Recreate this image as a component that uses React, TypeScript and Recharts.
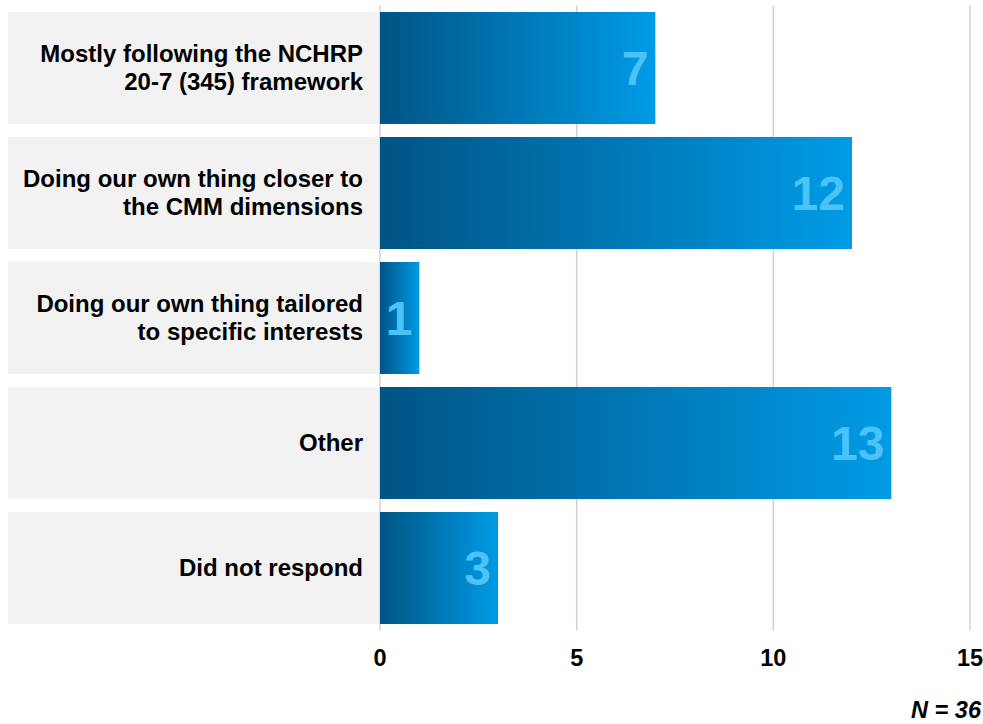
import { BarChart, Bar, XAxis, YAxis, CartesianGrid, LabelList } from 'recharts'

const categories = [
  'Mostly following the NCHRP\n20-7 (345) framework',
  'Doing our own thing closer to\nthe CMM dimensions',
  'Doing our own thing tailored\nto specific interests',
  'Other',
  'Did not respond'
]
const counts = [7, 12, 1, 13, 3]
const xTicks = [0, 5, 10, 15]
const sampleNote = 'N = 36'

const data = categories.map((name, i) => ({ name, value: counts[i] }))

const FONT = '"Liberation Sans", Arial, sans-serif'

const CategoryTick = ({ y, payload }: any) => {
  const lines: string[] = String(payload.value).split('\n')
  const lineH = 28
  const startY = y - ((lines.length - 1) * lineH) / 2
  return (
    <g>
      <rect x={8} y={y - 56} width={371} height={112} fill="#f2f2f2" />
      <text
        x={363}
        y={startY}
        textAnchor="end"
        fontFamily={FONT}
        fontWeight="bold"
        fontSize={24}
        fill="#000"
      >
        {lines.map((l, i) => (
          <tspan key={i} x={363} y={startY + i * lineH} dy="0.35em">
            {l}
          </tspan>
        ))}
      </text>
    </g>
  )
}

export default function App() {
  return (
    <div style={{ position: 'absolute', left: 0, top: 0, width: 983, height: 724, background: '#fff' }}>
      <BarChart
        width={983}
        height={724}
        data={data}
        layout="vertical"
        margin={{ top: 5.5, right: 13, bottom: 63.5, left: 0 }}
        barCategoryGap={6.5}
      >
        <defs>
          <linearGradient id="barGrad" x1="0" y1="0" x2="1" y2="0">
            <stop offset="0%" stopColor="#005484" />
            <stop offset="100%" stopColor="#009be6" />
          </linearGradient>
        </defs>
        <CartesianGrid horizontal={false} stroke="#d0d0d0" strokeWidth={1.5} />
        <XAxis
          type="number"
          domain={[0, 15]}
          ticks={xTicks}
          axisLine={false}
          tickLine={false}
          height={30}
          tickMargin={13}
          tick={{ fontFamily: FONT, fontWeight: 'bold', fontSize: 23.5, fill: '#000' }}
        />
        <YAxis
          type="category"
          dataKey="name"
          width={380}
          axisLine={false}
          tickLine={false}
          tick={<CategoryTick />}
        />
        <Bar dataKey="value" fill="url(#barGrad)" isAnimationActive={false}>
          <LabelList
            dataKey="value"
            position="insideRight"
            offset={7}
            fill="#4cc2f8"
            fontFamily={FONT}
            fontWeight="bold"
            fontSize={48}
          />
        </Bar>
      </BarChart>
      <div
        style={{
          position: 'absolute',
          right: 2,
          top: 699,
          fontFamily: FONT,
          fontWeight: 'bold',
          fontStyle: 'italic',
          fontSize: 23.5,
          lineHeight: '22px',
          color: '#000'
        }}
      >
        {sampleNote}
      </div>
    </div>
  )
}
